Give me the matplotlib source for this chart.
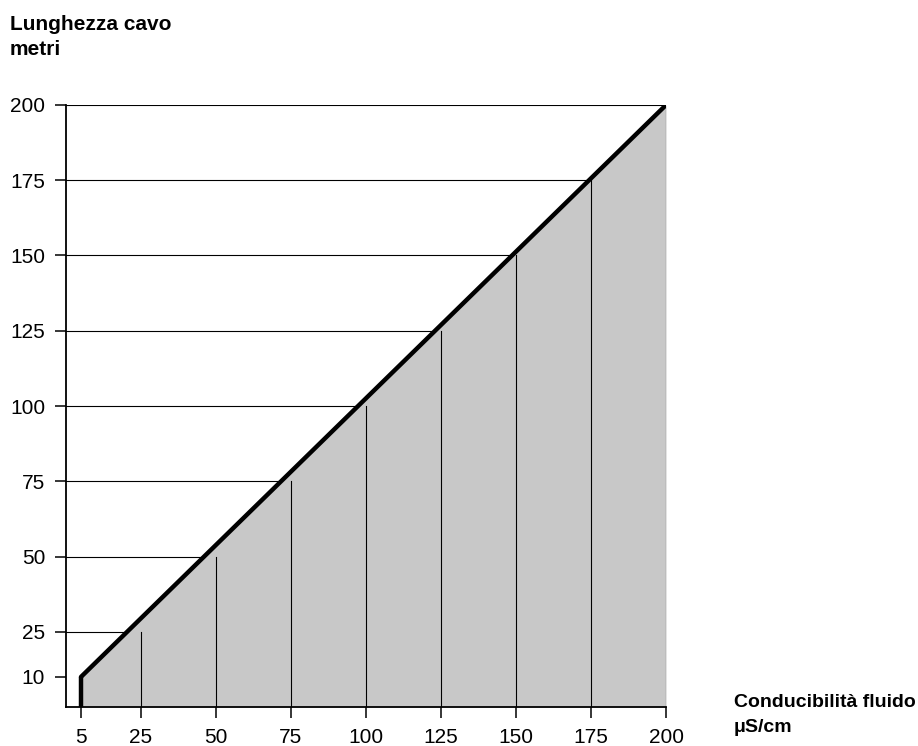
import numpy as np
import matplotlib.pyplot as plt

plt.rcParams['font.family'] = ['Liberation Sans', 'DejaVu Sans']

# curve: cable length vs fluid conductivity
cond = [5, 200]
length = [10, 200]
x_ticks = [5, 25, 50, 75, 100, 125, 150, 175, 200]
y_ticks = [10, 25, 50, 75, 100, 125, 150, 175, 200]

fig = plt.figure(figsize=(9.18, 7.46), dpi=100)
ax = fig.add_axes([66 / 918, 1 - 707 / 746, 600 / 918, 602 / 746])

ax.fill_between(cond, length, 0, color='#c8c8c8', lw=0, zorder=1)

# guide lines: horizontal from axis to curve, vertical from axis up to same value
for v in y_ticks[1:]:
    xe = np.interp(v, length, cond)
    ax.plot([0, xe], [v, v], color='black', lw=0.8, zorder=2)
for v in x_ticks[1:]:
    ax.plot([v, v], [0, v], color='black', lw=0.8, zorder=2)

ax.plot([cond[0], cond[0]], [0, length[0]], color='black', lw=3.2, zorder=3,
        solid_capstyle='butt')
ax.plot(cond, length, color='black', lw=3.2, zorder=3, solid_capstyle='round')

ax.set_xlim(0, 200)
ax.set_ylim(0, 200)
ax.set_xticks(x_ticks)
ax.set_yticks(y_ticks)
ax.tick_params(direction='out', length=8, width=1.1, pad=7, labelsize=15)
for s in ['top', 'right']:
    ax.spines[s].set_visible(False)
for s in ['left', 'bottom']:
    ax.spines[s].set_linewidth(1.3)

fig.text(10 / 918, 1 - 15 / 746, 'Lunghezza cavo\nmetri', fontsize=15,
         fontweight='bold', va='top', ha='left', linespacing=1.4)
fig.text(734 / 918, 1 - 694 / 746, 'Conducibilità fluido\nμS/cm', fontsize=14,
         fontweight='bold', va='top', ha='left', linespacing=1.65)

fig.savefig('out.png', dpi=100)
